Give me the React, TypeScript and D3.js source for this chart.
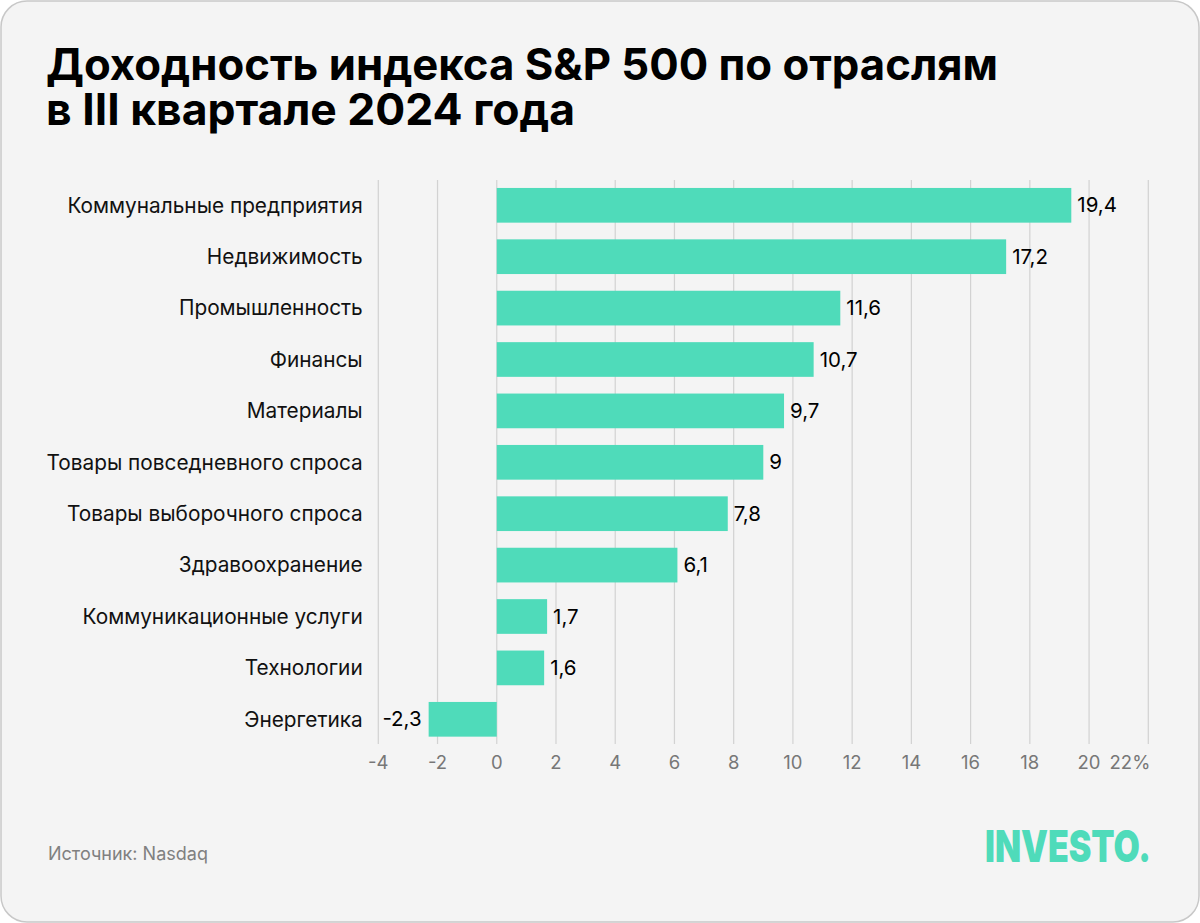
import React from "react";
import * as d3 from "d3";

const categories = [
  "Коммунальные предприятия",
  "Недвижимость",
  "Промышленность",
  "Финансы",
  "Материалы",
  "Товары повседневного спроса",
  "Товары выборочного спроса",
  "Здравоохранение",
  "Коммуникационные услуги",
  "Технологии",
  "Энергетика",
];
const values = [19.4, 17.2, 11.6, 10.7, 9.7, 9, 7.8, 6.1, 1.7, 1.6, -2.3];
const tickValues = [-4, -2, 0, 2, 4, 6, 8, 10, 12, 14, 16, 18, 20, 22];
const titleLines = ["Доходность индекса S&P 500 по отраслям", "в III квартале 2024 года"];
const sourceText = "Источник: Nasdaq";
const brandText = "INVESTO.";

const W = 1200;
const H = 923;
const FONT = "Inter, 'Noto Sans', sans-serif";
const GREEN = "#4FDBBA";

export default function App() {
  React.useEffect(() => {
    document.body.style.margin = "0";
  }, []);

  const x = d3.scaleLinear().domain([-4, 22]).range([378.3, 1148.3]);
  const y = d3
    .scaleBand<string>()
    .domain(categories)
    .range([179.6, 745])
    .paddingInner(0.325)
    .paddingOuter(0.1625);

  const fmt = (v: number) => String(v).replace(".", ",");
  const titleWidths = [952, 529];

  return (
    <svg width={W} height={H} style={{ display: "block" }} fontFamily={FONT}>
      <rect x={1} y={1} width={W - 2} height={H - 2} rx={26} fill="#f4f4f4" stroke="#c8c8c8" strokeWidth={1.5} />
      {titleLines.map((t, i) => (
        <text key={i} x={46} y={80 + i * 45} fontSize={44} fontWeight={700} fill="#000" textLength={titleWidths[i]} lengthAdjust="spacingAndGlyphs">
          {t}
        </text>
      ))}
      {tickValues.map((t) => (
        <line key={"g" + t} x1={x(t)} x2={x(t)} y1={180} y2={744} stroke="#d2d2d2" strokeWidth={1.2} />
      ))}
      {tickValues.map((t, i) => (
        <text
          key={"t" + t}
          x={i === tickValues.length - 1 ? x(t) + 2 : x(t)}
          y={769}
          textAnchor={i === tickValues.length - 1 ? "end" : "middle"}
          fontSize={18.5}
          fill="#777"
        >
          {i === tickValues.length - 1 ? `${t}%` : t}
        </text>
      ))}
      {categories.map((c, i) => {
        const v = values[i];
        const y0 = y(c)!;
        const bw = y.bandwidth();
        return (
          <g key={c}>
            <rect x={x(Math.min(0, v))} y={y0} width={Math.abs(x(v) - x(0))} height={bw} fill={GREEN} />
            <text x={362.7} y={y0 + bw / 2} dy="0.35em" textAnchor="end" fontSize={20.8} fill="#111">
              {c}
            </text>
            <text
              x={v >= 0 ? x(v) + 6 : x(v) - 7}
              y={y0 + bw / 2}
              dy="0.35em"
              textAnchor={v >= 0 ? "start" : "end"}
              fontSize={20.5}
              fill="#000"
            >
              {fmt(v)}
            </text>
          </g>
        );
      })}
      <text x={48} y={860} fontSize={18} fill="#808080">
        {sourceText}
      </text>
      <text
        x={985}
        y={861.5}
        fontSize={44}
        fontWeight={900}
        fill={GREEN}
        textLength={166}
        lengthAdjust="spacingAndGlyphs"
      >
        {brandText}
      </text>
    </svg>
  );
}
